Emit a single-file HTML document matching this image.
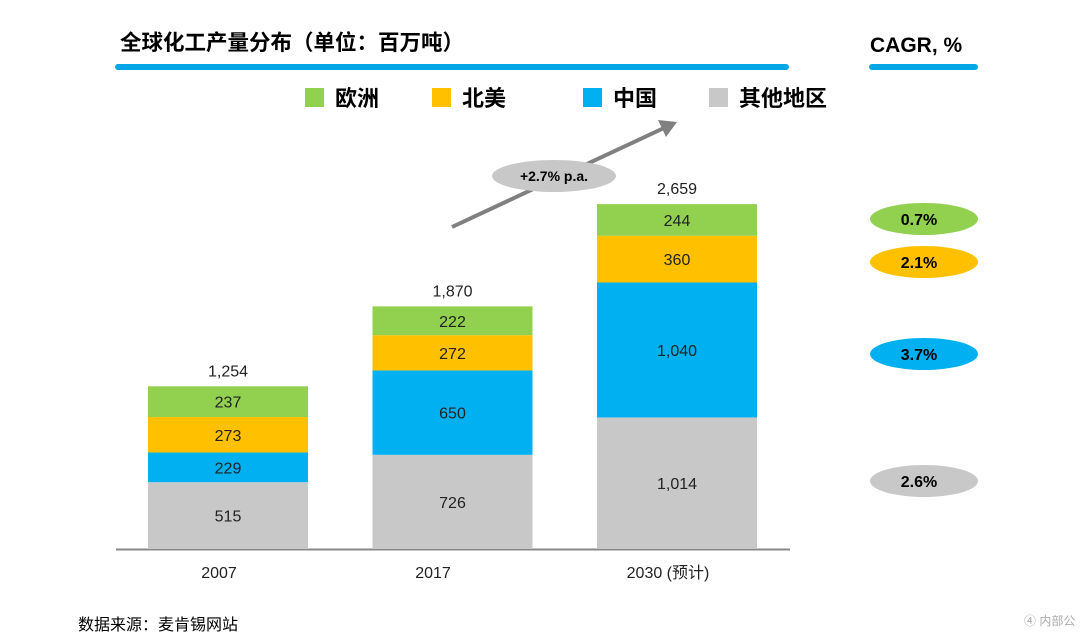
<!DOCTYPE html>
<html><head><meta charset="utf-8"><style>
html,body{margin:0;padding:0;background:#fff;}
body{width:1080px;height:636px;overflow:hidden;font-family:"Liberation Sans","Noto Sans CJK SC",sans-serif;}
</style></head><body>
<svg id="chart" width="1080" height="636" xmlns="http://www.w3.org/2000/svg" font-family="Liberation Sans, Noto Sans CJK SC, sans-serif">
<text x="120" y="50" font-size="21.5" font-weight="bold" fill="#000">全球化工产量分布（单位：百万吨）</text>
<line x1="118" y1="67" x2="786" y2="67" stroke="#00a6e6" stroke-width="6" stroke-linecap="round"/>
<text x="870" y="52" font-size="21" font-weight="bold" fill="#000">CAGR, %</text>
<line x1="872" y1="67" x2="975" y2="67" stroke="#00a6e6" stroke-width="6" stroke-linecap="round"/>
<g id="legend"></g>
<line x1="116" y1="549.5" x2="790" y2="549.5" stroke="#888" stroke-width="2"/>
<g id="bars"></g>
<line x1="452" y1="227" x2="664" y2="128" stroke="#808080" stroke-width="4"/>
<polygon points="677,122 658,120 666,137" fill="#808080"/>
<ellipse cx="554" cy="176" rx="62" ry="16" fill="#c8c8c8"/>
<text x="554" y="181" font-size="14" font-weight="bold" text-anchor="middle" fill="#000">+2.7% p.a.</text>
<g id="cagr"></g>
<text x="78" y="630" font-size="16" fill="#000">数据来源：麦肯锡网站</text>
<text x="1024" y="625" font-size="12" fill="#aaa">④ 内部公</text>
</svg>
<script>
const categories=["2007","2017","2030 (预计)"];
const seriesNames=["其他地区","中国","北美","欧洲"];
const other=[515,726,1014];
const china=[229,650,1040];
const northAmerica=[273,272,360];
const europe=[237,222,244];
const totals=["1,254","1,870","2,659"];
const cagr=["2.6%","3.7%","2.1%","0.7%"];
const colors=["#c8c8c8","#00b0f0","#ffc000","#92d050"];
const NS="http://www.w3.org/2000/svg";
const base=549, k=345/2659;
const y=v=>base-v*k;
const xLeft=i=>148+i*224.5, bw=160;
const tickX=[219,433,668];
const bars=document.getElementById('bars');
function mk(tag,attrs,parent){const e=document.createElementNS(NS,tag);for(const a in attrs)e.setAttribute(a,attrs[a]);parent.appendChild(e);return e;}
const series=[other,china,northAmerica,europe];
const fmt=v=>v.toLocaleString('en-US');
categories.forEach((c,i)=>{
  let cum=0;
  series.forEach((s,j)=>{
    const r=mk('rect',{x:xLeft(i),y:y(cum+s[i]),width:bw,height:s[i]*k,fill:colors[j]},bars);
    
    
    const t=mk('text',{x:xLeft(i)+bw/2,y:y(cum+s[i]/2)+6,'font-size':16,'text-anchor':'middle',fill:'#222'},bars);
    
    
    t.textContent=fmt(s[i]);
    cum+=s[i];
  });
  const tt=mk('text',{x:xLeft(i)+bw/2,y:y(cum)-10,'font-size':16,'text-anchor':'middle',fill:'#222'},bars);
  
  
  tt.textContent=totals[i];
  const lb=mk('text',{x:tickX[i],y:578,'font-size':16,'text-anchor':'middle',fill:'#222'},bars);
  
  
  lb.textContent=c;
});
const lg=document.getElementById('legend');
const lx=[305,432,583,709];
[3,2,1,0].forEach((j,n)=>{
  const r=mk('rect',{x:lx[n],y:88,width:19,height:19,fill:colors[j]},lg);
  
  
  const t=mk('text',{x:lx[n]+30,y:106,'font-size':22,'font-weight':'bold',fill:'#000'},lg);
  
  
  t.textContent=seriesNames[j];
});
const cg=document.getElementById('cagr');
const cy=[481,354,262,219];
cagr.forEach((v,j)=>{
  const e=mk('ellipse',{cx:924,cy:cy[j],rx:54,ry:16,fill:colors[j]},cg);
  
  
  const t=mk('text',{x:919,y:cy[j]+6,'font-size':16,'font-weight':'bold','text-anchor':'middle',fill:'#000'},cg);
  
  
  t.textContent=v;
});
</script>
</body></html>
